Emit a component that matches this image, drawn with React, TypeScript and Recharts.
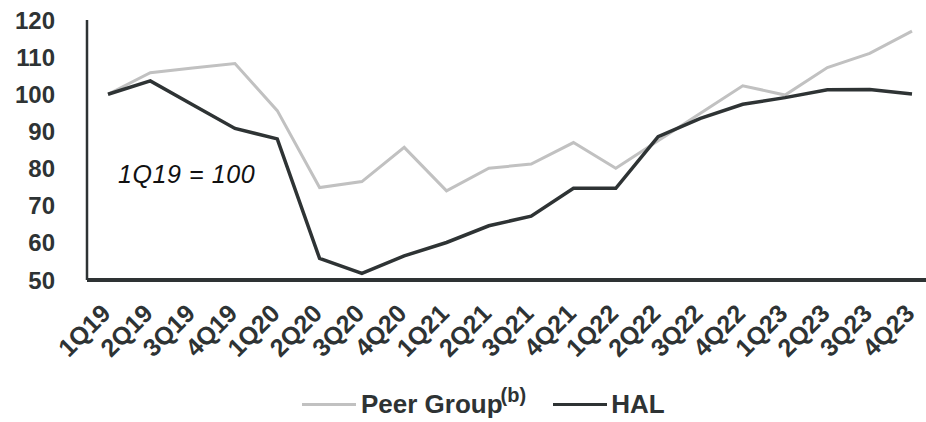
import { LineChart, Line, XAxis, YAxis, Legend, ReferenceDot } from "recharts";

const quarters = [
  "1Q19", "2Q19", "3Q19", "4Q19",
  "1Q20", "2Q20", "3Q20", "4Q20",
  "1Q21", "2Q21", "3Q21", "4Q21",
  "1Q22", "2Q22", "3Q22", "4Q22",
  "1Q23", "2Q23", "3Q23", "4Q23",
];

const peerGroup = [
  100, 105.8, 107.1, 108.3,
  95.6, 74.9, 76.5, 85.7,
  74.0, 80.1, 81.2, 87.0,
  80.1, 87.5, 94.9, 102.3,
  99.8, 107.2, 111.0, 117.0,
];

const hal = [
  100, 103.6, 97.2, 90.8,
  88.0, 55.8, 51.8, 56.5,
  60.1, 64.6, 67.2, 74.7,
  74.7, 88.6, 93.5, 97.3,
  99.1, 101.2, 101.3, 100.1,
];

const yTicks = [50, 60, 70, 80, 90, 100, 110, 120];

const data = quarters.map((q, i) => ({ q, peer: peerGroup[i], hal: hal[i] }));

const FONT = "'Liberation Sans', Arial, sans-serif";
const INK = "#2e3334";
const PEER = "#c1c1c1";

function XTick(props: any) {
  const { x, y, payload } = props;
  const ax = x + 4;
  const ay = y + 35;
  return (
    <text
      x={ax}
      y={ay}
      transform={`rotate(-45, ${ax}, ${ay})`}
      textAnchor="end"
      fontFamily={FONT}
      fontWeight="bold"
      fontSize={25}
      fill={INK}
    >
      {payload.value}
    </text>
  );
}

function YTick(props: any) {
  const { x, y, payload } = props;
  return (
    <text
      x={x}
      y={y}
      dy="0.36em"
      textAnchor="end"
      fontFamily={FONT}
      fontWeight="bold"
      fontSize={24}
      fill={INK}
    >
      {payload.value}
    </text>
  );
}

function LegendBox() {
  const item = { display: "flex", alignItems: "center" } as const;
  const swatch = (c: string) => ({ width: 54, height: 3, background: c, marginRight: 5 });
  return (
    <div
      style={{
        display: "flex",
        alignItems: "center",
        paddingLeft: 302,
        fontFamily: FONT,
        fontWeight: "bold",
        fontSize: 26,
        color: INK,
        height: 36,
      }}
    >
      <div style={item}>
        <div style={swatch(PEER)} />
        <span>
          Peer Group<sup style={{ fontSize: 20, verticalAlign: "11px", lineHeight: 0, marginLeft: -2 }}>(b)</sup>
        </span>
      </div>
      <div style={{ ...item, marginLeft: 27 }}>
        <div style={{ ...swatch(INK), marginRight: 4 }} />
        <span>HAL</span>
      </div>
    </div>
  );
}

function Note(props: any) {
  const { viewBox } = props;
  return (
    <text
      x={viewBox.x + 10}
      y={viewBox.y}
      dy="0.36em"
      fontFamily={FONT}
      fontStyle="italic"
      fontSize={25}
      letterSpacing={0.6}
      fill="#111"
    >
      1Q19 = 100
    </text>
  );
}

export default function App() {
  return (
    <div style={{ position: "absolute", left: 0, top: 0 }}>
      <LineChart width={926} height={422} data={data} margin={{ top: 20, right: 0, bottom: 0, left: 0 }}>
        <XAxis
          dataKey="q"
          scale="point"
          padding={{ left: 21, right: 14 }}
          interval={0}
          height={106}
          tickLine={false}
          tickSize={0}
          tickMargin={0}
          axisLine={{ stroke: INK, strokeWidth: 4 }}
          tick={<XTick />}
        />
        <YAxis
          domain={[50, 120]}
          ticks={yTicks}
          width={87}
          tickLine={false}
          tickSize={0}
          tickMargin={32}
          axisLine={{ stroke: INK, strokeWidth: 2.5 }}
          tick={<YTick />}
        />
        <ReferenceDot x="1Q19" y={78.5} r={0} fill="none" stroke="none" label={<Note />} />
        <Line
          dataKey="peer"
          name="Peer Group"
          stroke={PEER}
          strokeWidth={3}
          dot={false}
          isAnimationActive={false}
        />
        <Line
          dataKey="hal"
          name="HAL"
          stroke={INK}
          strokeWidth={3.5}
          dot={false}
          isAnimationActive={false}
        />
        <Legend
          verticalAlign="bottom"
          content={<LegendBox />}
          wrapperStyle={{ left: 0, width: 926, bottom: 0, height: 36 }}
        />
      </LineChart>
    </div>
  );
}
